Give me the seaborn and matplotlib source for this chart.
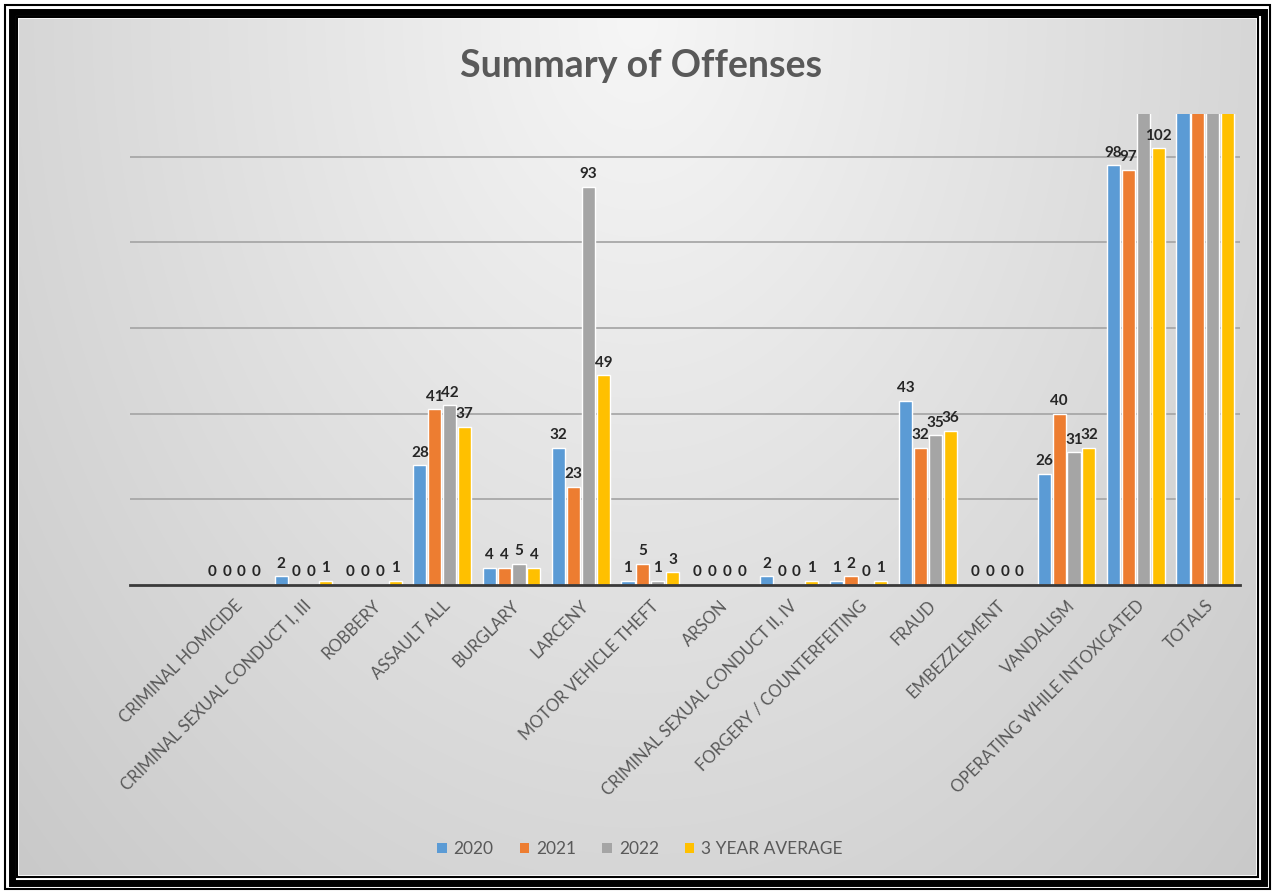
import numpy as np
import pandas as pd
import matplotlib
matplotlib.use("Agg")
import matplotlib.pyplot as plt
from matplotlib.patches import Rectangle, Patch
import seaborn as sns

# ---------------- data ----------------
categories = [
    "CRIMINAL HOMICIDE", "CRIMINAL SEXUAL CONDUCT I, III", "ROBBERY", "ASSAULT ALL",
    "BURGLARY", "LARCENY", "MOTOR VEHICLE THEFT", "ARSON",
    "CRIMINAL SEXUAL CONDUCT II, IV", "FORGERY / COUNTERFEITING", "FRAUD",
    "EMBEZZLEMENT", "VANDALISM", "OPERATING WHILE INTOXICATED", "TOTALS",
]
series_names = ["2020", "2021", "2022", "3 YEAR AVERAGE"]
v2020 = [0, 2, 0, 28, 4, 32, 1, 0, 2, 1, 43, 0, 26, 98, 237]
v2021 = [0, 0, 0, 41, 4, 23, 5, 0, 0, 2, 32, 0, 40, 97, 244]
v2022 = [0, 0, 0, 42, 5, 93, 1, 0, 0, 0, 35, 0, 31, 111, 318]
vavg = [0, 1, 1, 37, 4, 49, 3, 0, 1, 1, 36, 0, 32, 102, 267]
y_max = 110
grid_values = [20, 40, 60, 80, 100]

colors = ["#5B9BD5", "#ED7D31", "#A5A5A5", "#FFC000"]

df = pd.DataFrame({
    "category": categories * 4,
    "series": sum([[s] * len(categories) for s in series_names], []),
    "value": v2020 + v2021 + v2022 + vavg,
})

# ---------------- figure ----------------
sns.set_style("white")
plt.rcParams["font.family"] = ["Lato", "DejaVu Sans"]

W, H = 1275, 894
fig = plt.figure(figsize=(W / 100, H / 100), dpi=100)
fig.patch.set_facecolor("white")

def fx(px):
    return px / W

def fy(py):
    return 1 - py / H

# background gradient (chart area)
bx0, by0, bx1, by1 = 19, 19, 1256, 875
bg_ax = fig.add_axes([fx(bx0), fy(by1), fx(bx1 - bx0), (by1 - by0) / H])
bg_ax.set_axis_off()
gx = np.linspace(-1, 1, 400)
gy = np.linspace(0, 1, 300)
GX, GY = np.meshgrid(gx, gy)
dist = np.sqrt((GX * 0.9) ** 2 + (GY * 0.9) ** 2)
shade = 0.965 - 0.18 * np.clip(dist, 0, 1.3) / 1.3
shade = np.clip(shade, 0.78, 0.97)
bg_ax.imshow(np.dstack([shade, shade, shade]), aspect="auto", extent=[0, 1, 0, 1],
             origin="upper", interpolation="bilinear")

# frame lines
def frame_rect(inset, lw, color="black"):
    r = Rectangle((fx(inset), fy(H - inset)), fx(W - 2 * inset), (H - 2 * inset) / H,
                  transform=fig.transFigure, fill=False, edgecolor=color, linewidth=lw)
    fig.patches.append(r)

frame_rect(5, 1.5)
frame_rect(11.5, 5)
frame_rect(17, 1.5)

# main axes
L, R, T, B = 130, 1240, 114, 585
ax = fig.add_axes([fx(L), fy(B), fx(R - L), (B - T) / H])
ax.set_facecolor("none")

sns.barplot(data=df, x="category", y="value", hue="series", order=categories,
            hue_order=series_names, palette=colors, width=0.86, gap=0.12,
            errorbar=None, saturation=1, legend=False, ax=ax, zorder=3)

ax.set_xlim(-1.5, len(categories) - 0.5)
ax.set_ylim(0, y_max)
ax.set_yticks(grid_values)
ax.set_yticklabels([])
ax.tick_params(axis="y", length=0)
ax.tick_params(axis="x", length=0, pad=9)
for g in grid_values:
    ax.axhline(g, color="#a8a8a8", linewidth=1.3, zorder=1)
for s in ["top", "right", "left"]:
    ax.spines[s].set_visible(False)
ax.spines["bottom"].set_color("#3a3a3a")
ax.spines["bottom"].set_linewidth(2)
ax.spines["bottom"].set_zorder(5)
ax.set_xlabel("")
ax.set_ylabel("")

ax.set_xticks(range(len(categories)))
ax.set_xticklabels(categories, rotation=45, ha="right", rotation_mode="anchor",
                   fontsize=12, color="#595959")

# data labels
for cont, vals in zip(ax.containers, [v2020, v2021, v2022, vavg]):
    labels = [str(v) if v <= y_max else "" for v in vals]
    ax.bar_label(cont, labels=labels, padding=4, fontsize=11, fontweight="bold",
                 color="#262626", zorder=6)

# title
fig.text(fx(641), fy(66), "Summary of Offenses", ha="center", va="center",
         fontsize=27, fontweight="bold", color="#595959")

# legend
handles = [Patch(facecolor=c, edgecolor="none", label=n) for c, n in zip(colors, series_names)]
fig.legend(handles=handles, loc="center", bbox_to_anchor=(fx(640), fy(849)), ncol=4,
           frameon=False, fontsize=12.5, handlelength=0.55, handleheight=0.55,
           handletextpad=0.4, columnspacing=1.5, labelcolor="#595959")

fig.savefig("out.png", dpi=100)
